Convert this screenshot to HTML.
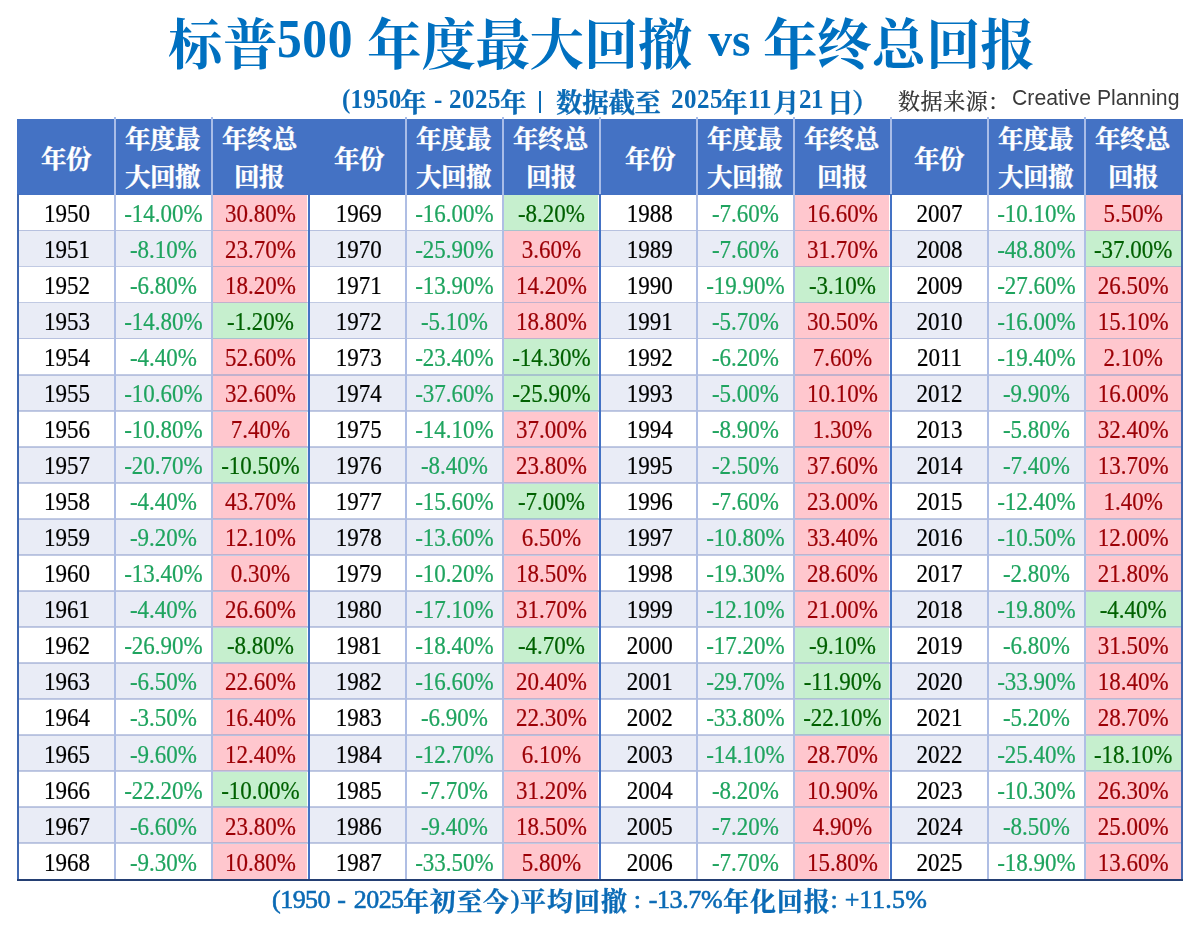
<!DOCTYPE html>
<html lang="zh"><head><meta charset="utf-8"><title>S&amp;P 500</title><style>
html,body{margin:0;padding:0;background:#fff}
body{width:1200px;height:932px;position:relative;overflow:hidden;font-family:"Liberation Serif",serif}
.b{position:absolute}
#tx{position:absolute;left:0;top:0;width:1200px;height:932px;will-change:transform}
.cj{position:absolute;overflow:visible}
.cj text{font-family:"Liberation Serif","Noto Serif CJK SC",serif;font-size:1000px;font-weight:bold}
.cj text.m{font-weight:normal}
.cj text.ku{font-family:"Liberation Sans",sans-serif;font-weight:normal}
.t{position:absolute;width:97px;height:36.05px;line-height:38.55px;text-align:center;font-size:23px;white-space:nowrap;color:#000;transform:scale(1,1.09);-webkit-text-stroke:.2px currentColor}
.d{color:#1FA45F}
.p{color:#9C0006}
.n{color:#006100}
.l{position:absolute;white-space:nowrap;line-height:1.2}
.tt{color:#0070C0}
.st{color:#0A6AB5}
.src{font-size:22px;color:#333}
.bt{color:#0A6AB5;-webkit-text-stroke:.6px #0A6AB5}
</style></head>
<body>
<div class="b" style="left:16.9px;top:118.8px;width:1166.1px;height:76.1px;background:#4472C4"></div>
<div class="b" style="left:16.9px;top:230.45px;width:1166.1px;height:36.05px;background:#E9ECF6"></div>
<div class="b" style="left:16.9px;top:302.55px;width:1166.1px;height:36.05px;background:#E9ECF6"></div>
<div class="b" style="left:16.9px;top:374.65px;width:1166.1px;height:36.05px;background:#E9ECF6"></div>
<div class="b" style="left:16.9px;top:446.75px;width:1166.1px;height:36.05px;background:#E9ECF6"></div>
<div class="b" style="left:16.9px;top:518.85px;width:1166.1px;height:36.05px;background:#E9ECF6"></div>
<div class="b" style="left:16.9px;top:590.95px;width:1166.1px;height:36.05px;background:#E9ECF6"></div>
<div class="b" style="left:16.9px;top:663.05px;width:1166.1px;height:36.05px;background:#E9ECF6"></div>
<div class="b" style="left:16.9px;top:735.15px;width:1166.1px;height:36.05px;background:#E9ECF6"></div>
<div class="b" style="left:16.9px;top:807.25px;width:1166.1px;height:36.05px;background:#E9ECF6"></div>
<div class="b" style="left:213px;top:195.2px;width:94px;height:35.45px;background:#FFC7CE"></div>
<div class="b" style="left:504px;top:195.2px;width:94px;height:35.45px;background:#C6EFCE"></div>
<div class="b" style="left:795px;top:195.2px;width:94px;height:35.45px;background:#FFC7CE"></div>
<div class="b" style="left:1086px;top:195.2px;width:96px;height:35.45px;background:#FFC7CE"></div>
<div class="b" style="left:213px;top:231.25px;width:94px;height:35.45px;background:#FFC7CE"></div>
<div class="b" style="left:504px;top:231.25px;width:94px;height:35.45px;background:#FFC7CE"></div>
<div class="b" style="left:795px;top:231.25px;width:94px;height:35.45px;background:#FFC7CE"></div>
<div class="b" style="left:1086px;top:231.25px;width:96px;height:35.45px;background:#C6EFCE"></div>
<div class="b" style="left:213px;top:267.3px;width:94px;height:35.45px;background:#FFC7CE"></div>
<div class="b" style="left:504px;top:267.3px;width:94px;height:35.45px;background:#FFC7CE"></div>
<div class="b" style="left:795px;top:267.3px;width:94px;height:35.45px;background:#C6EFCE"></div>
<div class="b" style="left:1086px;top:267.3px;width:96px;height:35.45px;background:#FFC7CE"></div>
<div class="b" style="left:213px;top:303.35px;width:94px;height:35.45px;background:#C6EFCE"></div>
<div class="b" style="left:504px;top:303.35px;width:94px;height:35.45px;background:#FFC7CE"></div>
<div class="b" style="left:795px;top:303.35px;width:94px;height:35.45px;background:#FFC7CE"></div>
<div class="b" style="left:1086px;top:303.35px;width:96px;height:35.45px;background:#FFC7CE"></div>
<div class="b" style="left:213px;top:339.4px;width:94px;height:35.45px;background:#FFC7CE"></div>
<div class="b" style="left:504px;top:339.4px;width:94px;height:35.45px;background:#C6EFCE"></div>
<div class="b" style="left:795px;top:339.4px;width:94px;height:35.45px;background:#FFC7CE"></div>
<div class="b" style="left:1086px;top:339.4px;width:96px;height:35.45px;background:#FFC7CE"></div>
<div class="b" style="left:213px;top:375.45px;width:94px;height:35.45px;background:#FFC7CE"></div>
<div class="b" style="left:504px;top:375.45px;width:94px;height:35.45px;background:#C6EFCE"></div>
<div class="b" style="left:795px;top:375.45px;width:94px;height:35.45px;background:#FFC7CE"></div>
<div class="b" style="left:1086px;top:375.45px;width:96px;height:35.45px;background:#FFC7CE"></div>
<div class="b" style="left:213px;top:411.5px;width:94px;height:35.45px;background:#FFC7CE"></div>
<div class="b" style="left:504px;top:411.5px;width:94px;height:35.45px;background:#FFC7CE"></div>
<div class="b" style="left:795px;top:411.5px;width:94px;height:35.45px;background:#FFC7CE"></div>
<div class="b" style="left:1086px;top:411.5px;width:96px;height:35.45px;background:#FFC7CE"></div>
<div class="b" style="left:213px;top:447.55px;width:94px;height:35.45px;background:#C6EFCE"></div>
<div class="b" style="left:504px;top:447.55px;width:94px;height:35.45px;background:#FFC7CE"></div>
<div class="b" style="left:795px;top:447.55px;width:94px;height:35.45px;background:#FFC7CE"></div>
<div class="b" style="left:1086px;top:447.55px;width:96px;height:35.45px;background:#FFC7CE"></div>
<div class="b" style="left:213px;top:483.6px;width:94px;height:35.45px;background:#FFC7CE"></div>
<div class="b" style="left:504px;top:483.6px;width:94px;height:35.45px;background:#C6EFCE"></div>
<div class="b" style="left:795px;top:483.6px;width:94px;height:35.45px;background:#FFC7CE"></div>
<div class="b" style="left:1086px;top:483.6px;width:96px;height:35.45px;background:#FFC7CE"></div>
<div class="b" style="left:213px;top:519.65px;width:94px;height:35.45px;background:#FFC7CE"></div>
<div class="b" style="left:504px;top:519.65px;width:94px;height:35.45px;background:#FFC7CE"></div>
<div class="b" style="left:795px;top:519.65px;width:94px;height:35.45px;background:#FFC7CE"></div>
<div class="b" style="left:1086px;top:519.65px;width:96px;height:35.45px;background:#FFC7CE"></div>
<div class="b" style="left:213px;top:555.7px;width:94px;height:35.45px;background:#FFC7CE"></div>
<div class="b" style="left:504px;top:555.7px;width:94px;height:35.45px;background:#FFC7CE"></div>
<div class="b" style="left:795px;top:555.7px;width:94px;height:35.45px;background:#FFC7CE"></div>
<div class="b" style="left:1086px;top:555.7px;width:96px;height:35.45px;background:#FFC7CE"></div>
<div class="b" style="left:213px;top:591.75px;width:94px;height:35.45px;background:#FFC7CE"></div>
<div class="b" style="left:504px;top:591.75px;width:94px;height:35.45px;background:#FFC7CE"></div>
<div class="b" style="left:795px;top:591.75px;width:94px;height:35.45px;background:#FFC7CE"></div>
<div class="b" style="left:1086px;top:591.75px;width:96px;height:35.45px;background:#C6EFCE"></div>
<div class="b" style="left:213px;top:627.8px;width:94px;height:35.45px;background:#C6EFCE"></div>
<div class="b" style="left:504px;top:627.8px;width:94px;height:35.45px;background:#C6EFCE"></div>
<div class="b" style="left:795px;top:627.8px;width:94px;height:35.45px;background:#C6EFCE"></div>
<div class="b" style="left:1086px;top:627.8px;width:96px;height:35.45px;background:#FFC7CE"></div>
<div class="b" style="left:213px;top:663.85px;width:94px;height:35.45px;background:#FFC7CE"></div>
<div class="b" style="left:504px;top:663.85px;width:94px;height:35.45px;background:#FFC7CE"></div>
<div class="b" style="left:795px;top:663.85px;width:94px;height:35.45px;background:#C6EFCE"></div>
<div class="b" style="left:1086px;top:663.85px;width:96px;height:35.45px;background:#FFC7CE"></div>
<div class="b" style="left:213px;top:699.9px;width:94px;height:35.45px;background:#FFC7CE"></div>
<div class="b" style="left:504px;top:699.9px;width:94px;height:35.45px;background:#FFC7CE"></div>
<div class="b" style="left:795px;top:699.9px;width:94px;height:35.45px;background:#C6EFCE"></div>
<div class="b" style="left:1086px;top:699.9px;width:96px;height:35.45px;background:#FFC7CE"></div>
<div class="b" style="left:213px;top:735.95px;width:94px;height:35.45px;background:#FFC7CE"></div>
<div class="b" style="left:504px;top:735.95px;width:94px;height:35.45px;background:#FFC7CE"></div>
<div class="b" style="left:795px;top:735.95px;width:94px;height:35.45px;background:#FFC7CE"></div>
<div class="b" style="left:1086px;top:735.95px;width:96px;height:35.45px;background:#C6EFCE"></div>
<div class="b" style="left:213px;top:772px;width:94px;height:35.45px;background:#C6EFCE"></div>
<div class="b" style="left:504px;top:772px;width:94px;height:35.45px;background:#FFC7CE"></div>
<div class="b" style="left:795px;top:772px;width:94px;height:35.45px;background:#FFC7CE"></div>
<div class="b" style="left:1086px;top:772px;width:96px;height:35.45px;background:#FFC7CE"></div>
<div class="b" style="left:213px;top:808.05px;width:94px;height:35.45px;background:#FFC7CE"></div>
<div class="b" style="left:504px;top:808.05px;width:94px;height:35.45px;background:#FFC7CE"></div>
<div class="b" style="left:795px;top:808.05px;width:94px;height:35.45px;background:#FFC7CE"></div>
<div class="b" style="left:1086px;top:808.05px;width:96px;height:35.45px;background:#FFC7CE"></div>
<div class="b" style="left:213px;top:844.1px;width:94px;height:35.45px;background:#FFC7CE"></div>
<div class="b" style="left:504px;top:844.1px;width:94px;height:35.45px;background:#FFC7CE"></div>
<div class="b" style="left:795px;top:844.1px;width:94px;height:35.45px;background:#FFC7CE"></div>
<div class="b" style="left:1086px;top:844.1px;width:96px;height:35.45px;background:#FFC7CE"></div>
<div class="b" style="left:16.9px;top:229.55px;width:1166.1px;height:1.8px;background:#8E9FCC;opacity:.55"></div>
<div class="b" style="left:16.9px;top:265.6px;width:1166.1px;height:1.8px;background:#8E9FCC;opacity:.55"></div>
<div class="b" style="left:16.9px;top:301.65px;width:1166.1px;height:1.8px;background:#8E9FCC;opacity:.55"></div>
<div class="b" style="left:16.9px;top:337.7px;width:1166.1px;height:1.8px;background:#8E9FCC;opacity:.55"></div>
<div class="b" style="left:16.9px;top:373.75px;width:1166.1px;height:1.8px;background:#8E9FCC;opacity:.55"></div>
<div class="b" style="left:16.9px;top:409.8px;width:1166.1px;height:1.8px;background:#8E9FCC;opacity:.55"></div>
<div class="b" style="left:16.9px;top:445.85px;width:1166.1px;height:1.8px;background:#8E9FCC;opacity:.55"></div>
<div class="b" style="left:16.9px;top:481.9px;width:1166.1px;height:1.8px;background:#8E9FCC;opacity:.55"></div>
<div class="b" style="left:16.9px;top:517.95px;width:1166.1px;height:1.8px;background:#8E9FCC;opacity:.55"></div>
<div class="b" style="left:16.9px;top:554px;width:1166.1px;height:1.8px;background:#8E9FCC;opacity:.55"></div>
<div class="b" style="left:16.9px;top:590.05px;width:1166.1px;height:1.8px;background:#8E9FCC;opacity:.55"></div>
<div class="b" style="left:16.9px;top:626.1px;width:1166.1px;height:1.8px;background:#8E9FCC;opacity:.55"></div>
<div class="b" style="left:16.9px;top:662.15px;width:1166.1px;height:1.8px;background:#8E9FCC;opacity:.55"></div>
<div class="b" style="left:16.9px;top:698.2px;width:1166.1px;height:1.8px;background:#8E9FCC;opacity:.55"></div>
<div class="b" style="left:16.9px;top:734.25px;width:1166.1px;height:1.8px;background:#8E9FCC;opacity:.55"></div>
<div class="b" style="left:16.9px;top:770.3px;width:1166.1px;height:1.8px;background:#8E9FCC;opacity:.55"></div>
<div class="b" style="left:16.9px;top:806.35px;width:1166.1px;height:1.8px;background:#8E9FCC;opacity:.55"></div>
<div class="b" style="left:16.9px;top:842.4px;width:1166.1px;height:1.8px;background:#8E9FCC;opacity:.55"></div>
<div class="b" style="left:114px;top:116.8px;width:2px;height:77.6px;background:#A9BDE8"></div>
<div class="b" style="left:114px;top:194.4px;width:2px;height:684.95px;background:#AFBEE4"></div>
<div class="b" style="left:211px;top:116.8px;width:2px;height:77.6px;background:#A9BDE8"></div>
<div class="b" style="left:211px;top:194.4px;width:2px;height:684.95px;background:#AFBEE4"></div>
<div class="b" style="left:308px;top:194.4px;width:2.1px;height:684.95px;background:#4472C4"></div>
<div class="b" style="left:405px;top:116.8px;width:2px;height:77.6px;background:#A9BDE8"></div>
<div class="b" style="left:405px;top:194.4px;width:2px;height:684.95px;background:#AFBEE4"></div>
<div class="b" style="left:502px;top:116.8px;width:2px;height:77.6px;background:#A9BDE8"></div>
<div class="b" style="left:502px;top:194.4px;width:2px;height:684.95px;background:#AFBEE4"></div>
<div class="b" style="left:599px;top:116.8px;width:2px;height:77.6px;background:#A9BDE8"></div>
<div class="b" style="left:598.8px;top:194.4px;width:2.5px;height:684.95px;background:#4472C4"></div>
<div class="b" style="left:696px;top:116.8px;width:2px;height:77.6px;background:#A9BDE8"></div>
<div class="b" style="left:696px;top:194.4px;width:2px;height:684.95px;background:#AFBEE4"></div>
<div class="b" style="left:793px;top:116.8px;width:2px;height:77.6px;background:#A9BDE8"></div>
<div class="b" style="left:793px;top:194.4px;width:2px;height:684.95px;background:#AFBEE4"></div>
<div class="b" style="left:890px;top:116.8px;width:2px;height:77.6px;background:#A9BDE8"></div>
<div class="b" style="left:889.8px;top:194.4px;width:1.8px;height:684.95px;background:#4472C4"></div>
<div class="b" style="left:987px;top:116.8px;width:2px;height:77.6px;background:#A9BDE8"></div>
<div class="b" style="left:987px;top:194.4px;width:2px;height:684.95px;background:#AFBEE4"></div>
<div class="b" style="left:1084px;top:116.8px;width:2px;height:77.6px;background:#A9BDE8"></div>
<div class="b" style="left:1084px;top:194.4px;width:2px;height:684.95px;background:#AFBEE4"></div>
<div class="b" style="left:17.1px;top:194.4px;width:2.1px;height:685.95px;background:#4068B0"></div>
<div class="b" style="left:1181.1px;top:194.4px;width:1.9px;height:685.95px;background:#4668AE"></div>
<div class="b" style="left:17.1px;top:878.75px;width:1165.9px;height:1.9px;background:#243F73"></div>
<svg class="cj" role="img" aria-label="年份" style="left:41.41px;top:143.45px;width:50.49px;height:30.6px;fill:#fff;stroke:#fff;stroke-width:15.69;stroke-linejoin:round" viewBox="0 -980 1980 1200" preserveAspectRatio="none"><title>年份</title><text x="0 980" y="0">年份</text></svg>
<svg class="cj" role="img" aria-label="年度最" style="left:124.52px;top:122.95px;width:75.48px;height:30.6px;fill:#fff;stroke:#fff;stroke-width:15.69;stroke-linejoin:round" viewBox="0 -980 2960 1200" preserveAspectRatio="none"><title>年度最</title><text x="0 980 1960" y="0">年度最</text></svg>
<svg class="cj" role="img" aria-label="大回撤" style="left:124.52px;top:161.45px;width:75.48px;height:30.6px;fill:#fff;stroke:#fff;stroke-width:15.69;stroke-linejoin:round" viewBox="0 -980 2960 1200" preserveAspectRatio="none"><title>大回撤</title><text x="0 980 1960" y="0">大回撤</text></svg>
<svg class="cj" role="img" aria-label="年终总" style="left:221.51px;top:122.95px;width:75.48px;height:30.6px;fill:#fff;stroke:#fff;stroke-width:15.69;stroke-linejoin:round" viewBox="0 -980 2960 1200" preserveAspectRatio="none"><title>年终总</title><text x="0 980 1960" y="0">年终总</text></svg>
<svg class="cj" role="img" aria-label="回报" style="left:234.01px;top:161.45px;width:50.49px;height:30.6px;fill:#fff;stroke:#fff;stroke-width:15.69;stroke-linejoin:round" viewBox="0 -980 1980 1200" preserveAspectRatio="none"><title>回报</title><text x="0 980" y="0">回报</text></svg>
<svg class="cj" role="img" aria-label="年份" style="left:333.61px;top:143.45px;width:50.49px;height:30.6px;fill:#fff;stroke:#fff;stroke-width:15.69;stroke-linejoin:round" viewBox="0 -980 1980 1200" preserveAspectRatio="none"><title>年份</title><text x="0 980" y="0">年份</text></svg>
<svg class="cj" role="img" aria-label="年度最" style="left:415.51px;top:122.95px;width:75.48px;height:30.6px;fill:#fff;stroke:#fff;stroke-width:15.69;stroke-linejoin:round" viewBox="0 -980 2960 1200" preserveAspectRatio="none"><title>年度最</title><text x="0 980 1960" y="0">年度最</text></svg>
<svg class="cj" role="img" aria-label="大回撤" style="left:415.51px;top:161.45px;width:75.48px;height:30.6px;fill:#fff;stroke:#fff;stroke-width:15.69;stroke-linejoin:round" viewBox="0 -980 2960 1200" preserveAspectRatio="none"><title>大回撤</title><text x="0 980 1960" y="0">大回撤</text></svg>
<svg class="cj" role="img" aria-label="年终总" style="left:512.51px;top:122.95px;width:75.48px;height:30.6px;fill:#fff;stroke:#fff;stroke-width:15.69;stroke-linejoin:round" viewBox="0 -980 2960 1200" preserveAspectRatio="none"><title>年终总</title><text x="0 980 1960" y="0">年终总</text></svg>
<svg class="cj" role="img" aria-label="回报" style="left:526.21px;top:161.45px;width:50.49px;height:30.6px;fill:#fff;stroke:#fff;stroke-width:15.69;stroke-linejoin:round" viewBox="0 -980 1980 1200" preserveAspectRatio="none"><title>回报</title><text x="0 980" y="0">回报</text></svg>
<svg class="cj" role="img" aria-label="年份" style="left:624.61px;top:143.45px;width:50.49px;height:30.6px;fill:#fff;stroke:#fff;stroke-width:15.69;stroke-linejoin:round" viewBox="0 -980 1980 1200" preserveAspectRatio="none"><title>年份</title><text x="0 980" y="0">年份</text></svg>
<svg class="cj" role="img" aria-label="年度最" style="left:706.51px;top:122.95px;width:75.48px;height:30.6px;fill:#fff;stroke:#fff;stroke-width:15.69;stroke-linejoin:round" viewBox="0 -980 2960 1200" preserveAspectRatio="none"><title>年度最</title><text x="0 980 1960" y="0">年度最</text></svg>
<svg class="cj" role="img" aria-label="大回撤" style="left:706.51px;top:161.45px;width:75.48px;height:30.6px;fill:#fff;stroke:#fff;stroke-width:15.69;stroke-linejoin:round" viewBox="0 -980 2960 1200" preserveAspectRatio="none"><title>大回撤</title><text x="0 980 1960" y="0">大回撤</text></svg>
<svg class="cj" role="img" aria-label="年终总" style="left:803.51px;top:122.95px;width:75.48px;height:30.6px;fill:#fff;stroke:#fff;stroke-width:15.69;stroke-linejoin:round" viewBox="0 -980 2960 1200" preserveAspectRatio="none"><title>年终总</title><text x="0 980 1960" y="0">年终总</text></svg>
<svg class="cj" role="img" aria-label="回报" style="left:817.21px;top:161.45px;width:50.49px;height:30.6px;fill:#fff;stroke:#fff;stroke-width:15.69;stroke-linejoin:round" viewBox="0 -980 1980 1200" preserveAspectRatio="none"><title>回报</title><text x="0 980" y="0">回报</text></svg>
<svg class="cj" role="img" aria-label="年份" style="left:914.41px;top:143.45px;width:50.49px;height:30.6px;fill:#fff;stroke:#fff;stroke-width:15.69;stroke-linejoin:round" viewBox="0 -980 1980 1200" preserveAspectRatio="none"><title>年份</title><text x="0 980" y="0">年份</text></svg>
<svg class="cj" role="img" aria-label="年度最" style="left:997.51px;top:122.95px;width:75.48px;height:30.6px;fill:#fff;stroke:#fff;stroke-width:15.69;stroke-linejoin:round" viewBox="0 -980 2960 1200" preserveAspectRatio="none"><title>年度最</title><text x="0 980 1960" y="0">年度最</text></svg>
<svg class="cj" role="img" aria-label="大回撤" style="left:997.51px;top:161.45px;width:75.48px;height:30.6px;fill:#fff;stroke:#fff;stroke-width:15.69;stroke-linejoin:round" viewBox="0 -980 2960 1200" preserveAspectRatio="none"><title>大回撤</title><text x="0 980 1960" y="0">大回撤</text></svg>
<svg class="cj" role="img" aria-label="年终总" style="left:1095.02px;top:122.95px;width:75.48px;height:30.6px;fill:#fff;stroke:#fff;stroke-width:15.69;stroke-linejoin:round" viewBox="0 -980 2960 1200" preserveAspectRatio="none"><title>年终总</title><text x="0 980 1960" y="0">年终总</text></svg>
<svg class="cj" role="img" aria-label="回报" style="left:1107.51px;top:161.45px;width:50.49px;height:30.6px;fill:#fff;stroke:#fff;stroke-width:15.69;stroke-linejoin:round" viewBox="0 -980 1980 1200" preserveAspectRatio="none"><title>回报</title><text x="0 980" y="0">回报</text></svg>
<div id="tx">
<div class="t y" style="left:18.45px;top:195px">1950</div>
<div class="t d" style="left:115px;top:195px">-14.00%</div>
<div class="t p" style="left:212px;top:195px">30.80%</div>
<div class="t y" style="left:310.2px;top:195px">1969</div>
<div class="t d" style="left:406px;top:195px">-16.00%</div>
<div class="t n" style="left:503px;top:195px">-8.20%</div>
<div class="t y" style="left:601.2px;top:195px">1988</div>
<div class="t d" style="left:697px;top:195px">-7.60%</div>
<div class="t p" style="left:794px;top:195px">16.60%</div>
<div class="t y" style="left:891px;top:195px">2007</div>
<div class="t d" style="left:988px;top:195px">-10.10%</div>
<div class="t p" style="left:1084.7px;top:195px">5.50%</div>
<div class="t y" style="left:18.45px;top:231px">1951</div>
<div class="t d" style="left:115px;top:231px">-8.10%</div>
<div class="t p" style="left:212px;top:231px">23.70%</div>
<div class="t y" style="left:310.2px;top:231px">1970</div>
<div class="t d" style="left:406px;top:231px">-25.90%</div>
<div class="t p" style="left:503px;top:231px">3.60%</div>
<div class="t y" style="left:601.2px;top:231px">1989</div>
<div class="t d" style="left:697px;top:231px">-7.60%</div>
<div class="t p" style="left:794px;top:231px">31.70%</div>
<div class="t y" style="left:891px;top:231px">2008</div>
<div class="t d" style="left:988px;top:231px">-48.80%</div>
<div class="t n" style="left:1084.7px;top:231px">-37.00%</div>
<div class="t y" style="left:18.45px;top:267px">1952</div>
<div class="t d" style="left:115px;top:267px">-6.80%</div>
<div class="t p" style="left:212px;top:267px">18.20%</div>
<div class="t y" style="left:310.2px;top:267px">1971</div>
<div class="t d" style="left:406px;top:267px">-13.90%</div>
<div class="t p" style="left:503px;top:267px">14.20%</div>
<div class="t y" style="left:601.2px;top:267px">1990</div>
<div class="t d" style="left:697px;top:267px">-19.90%</div>
<div class="t n" style="left:794px;top:267px">-3.10%</div>
<div class="t y" style="left:891px;top:267px">2009</div>
<div class="t d" style="left:988px;top:267px">-27.60%</div>
<div class="t p" style="left:1084.7px;top:267px">26.50%</div>
<div class="t y" style="left:18.45px;top:303px">1953</div>
<div class="t d" style="left:115px;top:303px">-14.80%</div>
<div class="t n" style="left:212px;top:303px">-1.20%</div>
<div class="t y" style="left:310.2px;top:303px">1972</div>
<div class="t d" style="left:406px;top:303px">-5.10%</div>
<div class="t p" style="left:503px;top:303px">18.80%</div>
<div class="t y" style="left:601.2px;top:303px">1991</div>
<div class="t d" style="left:697px;top:303px">-5.70%</div>
<div class="t p" style="left:794px;top:303px">30.50%</div>
<div class="t y" style="left:891px;top:303px">2010</div>
<div class="t d" style="left:988px;top:303px">-16.00%</div>
<div class="t p" style="left:1084.7px;top:303px">15.10%</div>
<div class="t y" style="left:18.45px;top:339px">1954</div>
<div class="t d" style="left:115px;top:339px">-4.40%</div>
<div class="t p" style="left:212px;top:339px">52.60%</div>
<div class="t y" style="left:310.2px;top:339px">1973</div>
<div class="t d" style="left:406px;top:339px">-23.40%</div>
<div class="t n" style="left:503px;top:339px">-14.30%</div>
<div class="t y" style="left:601.2px;top:339px">1992</div>
<div class="t d" style="left:697px;top:339px">-6.20%</div>
<div class="t p" style="left:794px;top:339px">7.60%</div>
<div class="t y" style="left:891px;top:339px">2011</div>
<div class="t d" style="left:988px;top:339px">-19.40%</div>
<div class="t p" style="left:1084.7px;top:339px">2.10%</div>
<div class="t y" style="left:18.45px;top:375px">1955</div>
<div class="t d" style="left:115px;top:375px">-10.60%</div>
<div class="t p" style="left:212px;top:375px">32.60%</div>
<div class="t y" style="left:310.2px;top:375px">1974</div>
<div class="t d" style="left:406px;top:375px">-37.60%</div>
<div class="t n" style="left:503px;top:375px">-25.90%</div>
<div class="t y" style="left:601.2px;top:375px">1993</div>
<div class="t d" style="left:697px;top:375px">-5.00%</div>
<div class="t p" style="left:794px;top:375px">10.10%</div>
<div class="t y" style="left:891px;top:375px">2012</div>
<div class="t d" style="left:988px;top:375px">-9.90%</div>
<div class="t p" style="left:1084.7px;top:375px">16.00%</div>
<div class="t y" style="left:18.45px;top:411px">1956</div>
<div class="t d" style="left:115px;top:411px">-10.80%</div>
<div class="t p" style="left:212px;top:411px">7.40%</div>
<div class="t y" style="left:310.2px;top:411px">1975</div>
<div class="t d" style="left:406px;top:411px">-14.10%</div>
<div class="t p" style="left:503px;top:411px">37.00%</div>
<div class="t y" style="left:601.2px;top:411px">1994</div>
<div class="t d" style="left:697px;top:411px">-8.90%</div>
<div class="t p" style="left:794px;top:411px">1.30%</div>
<div class="t y" style="left:891px;top:411px">2013</div>
<div class="t d" style="left:988px;top:411px">-5.80%</div>
<div class="t p" style="left:1084.7px;top:411px">32.40%</div>
<div class="t y" style="left:18.45px;top:447px">1957</div>
<div class="t d" style="left:115px;top:447px">-20.70%</div>
<div class="t n" style="left:212px;top:447px">-10.50%</div>
<div class="t y" style="left:310.2px;top:447px">1976</div>
<div class="t d" style="left:406px;top:447px">-8.40%</div>
<div class="t p" style="left:503px;top:447px">23.80%</div>
<div class="t y" style="left:601.2px;top:447px">1995</div>
<div class="t d" style="left:697px;top:447px">-2.50%</div>
<div class="t p" style="left:794px;top:447px">37.60%</div>
<div class="t y" style="left:891px;top:447px">2014</div>
<div class="t d" style="left:988px;top:447px">-7.40%</div>
<div class="t p" style="left:1084.7px;top:447px">13.70%</div>
<div class="t y" style="left:18.45px;top:483px">1958</div>
<div class="t d" style="left:115px;top:483px">-4.40%</div>
<div class="t p" style="left:212px;top:483px">43.70%</div>
<div class="t y" style="left:310.2px;top:483px">1977</div>
<div class="t d" style="left:406px;top:483px">-15.60%</div>
<div class="t n" style="left:503px;top:483px">-7.00%</div>
<div class="t y" style="left:601.2px;top:483px">1996</div>
<div class="t d" style="left:697px;top:483px">-7.60%</div>
<div class="t p" style="left:794px;top:483px">23.00%</div>
<div class="t y" style="left:891px;top:483px">2015</div>
<div class="t d" style="left:988px;top:483px">-12.40%</div>
<div class="t p" style="left:1084.7px;top:483px">1.40%</div>
<div class="t y" style="left:18.45px;top:519px">1959</div>
<div class="t d" style="left:115px;top:519px">-9.20%</div>
<div class="t p" style="left:212px;top:519px">12.10%</div>
<div class="t y" style="left:310.2px;top:519px">1978</div>
<div class="t d" style="left:406px;top:519px">-13.60%</div>
<div class="t p" style="left:503px;top:519px">6.50%</div>
<div class="t y" style="left:601.2px;top:519px">1997</div>
<div class="t d" style="left:697px;top:519px">-10.80%</div>
<div class="t p" style="left:794px;top:519px">33.40%</div>
<div class="t y" style="left:891px;top:519px">2016</div>
<div class="t d" style="left:988px;top:519px">-10.50%</div>
<div class="t p" style="left:1084.7px;top:519px">12.00%</div>
<div class="t y" style="left:18.45px;top:555px">1960</div>
<div class="t d" style="left:115px;top:555px">-13.40%</div>
<div class="t p" style="left:212px;top:555px">0.30%</div>
<div class="t y" style="left:310.2px;top:555px">1979</div>
<div class="t d" style="left:406px;top:555px">-10.20%</div>
<div class="t p" style="left:503px;top:555px">18.50%</div>
<div class="t y" style="left:601.2px;top:555px">1998</div>
<div class="t d" style="left:697px;top:555px">-19.30%</div>
<div class="t p" style="left:794px;top:555px">28.60%</div>
<div class="t y" style="left:891px;top:555px">2017</div>
<div class="t d" style="left:988px;top:555px">-2.80%</div>
<div class="t p" style="left:1084.7px;top:555px">21.80%</div>
<div class="t y" style="left:18.45px;top:591px">1961</div>
<div class="t d" style="left:115px;top:591px">-4.40%</div>
<div class="t p" style="left:212px;top:591px">26.60%</div>
<div class="t y" style="left:310.2px;top:591px">1980</div>
<div class="t d" style="left:406px;top:591px">-17.10%</div>
<div class="t p" style="left:503px;top:591px">31.70%</div>
<div class="t y" style="left:601.2px;top:591px">1999</div>
<div class="t d" style="left:697px;top:591px">-12.10%</div>
<div class="t p" style="left:794px;top:591px">21.00%</div>
<div class="t y" style="left:891px;top:591px">2018</div>
<div class="t d" style="left:988px;top:591px">-19.80%</div>
<div class="t n" style="left:1084.7px;top:591px">-4.40%</div>
<div class="t y" style="left:18.45px;top:627px">1962</div>
<div class="t d" style="left:115px;top:627px">-26.90%</div>
<div class="t n" style="left:212px;top:627px">-8.80%</div>
<div class="t y" style="left:310.2px;top:627px">1981</div>
<div class="t d" style="left:406px;top:627px">-18.40%</div>
<div class="t n" style="left:503px;top:627px">-4.70%</div>
<div class="t y" style="left:601.2px;top:627px">2000</div>
<div class="t d" style="left:697px;top:627px">-17.20%</div>
<div class="t n" style="left:794px;top:627px">-9.10%</div>
<div class="t y" style="left:891px;top:627px">2019</div>
<div class="t d" style="left:988px;top:627px">-6.80%</div>
<div class="t p" style="left:1084.7px;top:627px">31.50%</div>
<div class="t y" style="left:18.45px;top:663px">1963</div>
<div class="t d" style="left:115px;top:663px">-6.50%</div>
<div class="t p" style="left:212px;top:663px">22.60%</div>
<div class="t y" style="left:310.2px;top:663px">1982</div>
<div class="t d" style="left:406px;top:663px">-16.60%</div>
<div class="t p" style="left:503px;top:663px">20.40%</div>
<div class="t y" style="left:601.2px;top:663px">2001</div>
<div class="t d" style="left:697px;top:663px">-29.70%</div>
<div class="t n" style="left:794px;top:663px">-11.90%</div>
<div class="t y" style="left:891px;top:663px">2020</div>
<div class="t d" style="left:988px;top:663px">-33.90%</div>
<div class="t p" style="left:1084.7px;top:663px">18.40%</div>
<div class="t y" style="left:18.45px;top:699px">1964</div>
<div class="t d" style="left:115px;top:699px">-3.50%</div>
<div class="t p" style="left:212px;top:699px">16.40%</div>
<div class="t y" style="left:310.2px;top:699px">1983</div>
<div class="t d" style="left:406px;top:699px">-6.90%</div>
<div class="t p" style="left:503px;top:699px">22.30%</div>
<div class="t y" style="left:601.2px;top:699px">2002</div>
<div class="t d" style="left:697px;top:699px">-33.80%</div>
<div class="t n" style="left:794px;top:699px">-22.10%</div>
<div class="t y" style="left:891px;top:699px">2021</div>
<div class="t d" style="left:988px;top:699px">-5.20%</div>
<div class="t p" style="left:1084.7px;top:699px">28.70%</div>
<div class="t y" style="left:18.45px;top:736px">1965</div>
<div class="t d" style="left:115px;top:736px">-9.60%</div>
<div class="t p" style="left:212px;top:736px">12.40%</div>
<div class="t y" style="left:310.2px;top:736px">1984</div>
<div class="t d" style="left:406px;top:736px">-12.70%</div>
<div class="t p" style="left:503px;top:736px">6.10%</div>
<div class="t y" style="left:601.2px;top:736px">2003</div>
<div class="t d" style="left:697px;top:736px">-14.10%</div>
<div class="t p" style="left:794px;top:736px">28.70%</div>
<div class="t y" style="left:891px;top:736px">2022</div>
<div class="t d" style="left:988px;top:736px">-25.40%</div>
<div class="t n" style="left:1084.7px;top:736px">-18.10%</div>
<div class="t y" style="left:18.45px;top:772px">1966</div>
<div class="t d" style="left:115px;top:772px">-22.20%</div>
<div class="t n" style="left:212px;top:772px">-10.00%</div>
<div class="t y" style="left:310.2px;top:772px">1985</div>
<div class="t d" style="left:406px;top:772px">-7.70%</div>
<div class="t p" style="left:503px;top:772px">31.20%</div>
<div class="t y" style="left:601.2px;top:772px">2004</div>
<div class="t d" style="left:697px;top:772px">-8.20%</div>
<div class="t p" style="left:794px;top:772px">10.90%</div>
<div class="t y" style="left:891px;top:772px">2023</div>
<div class="t d" style="left:988px;top:772px">-10.30%</div>
<div class="t p" style="left:1084.7px;top:772px">26.30%</div>
<div class="t y" style="left:18.45px;top:808px">1967</div>
<div class="t d" style="left:115px;top:808px">-6.60%</div>
<div class="t p" style="left:212px;top:808px">23.80%</div>
<div class="t y" style="left:310.2px;top:808px">1986</div>
<div class="t d" style="left:406px;top:808px">-9.40%</div>
<div class="t p" style="left:503px;top:808px">18.50%</div>
<div class="t y" style="left:601.2px;top:808px">2005</div>
<div class="t d" style="left:697px;top:808px">-7.20%</div>
<div class="t p" style="left:794px;top:808px">4.90%</div>
<div class="t y" style="left:891px;top:808px">2024</div>
<div class="t d" style="left:988px;top:808px">-8.50%</div>
<div class="t p" style="left:1084.7px;top:808px">25.00%</div>
<div class="t y" style="left:18.45px;top:844px">1968</div>
<div class="t d" style="left:115px;top:844px">-9.30%</div>
<div class="t p" style="left:212px;top:844px">10.80%</div>
<div class="t y" style="left:310.2px;top:844px">1987</div>
<div class="t d" style="left:406px;top:844px">-33.50%</div>
<div class="t p" style="left:503px;top:844px">5.80%</div>
<div class="t y" style="left:601.2px;top:844px">2006</div>
<div class="t d" style="left:697px;top:844px">-7.70%</div>
<div class="t p" style="left:794px;top:844px">15.80%</div>
<div class="t y" style="left:891px;top:844px">2025</div>
<div class="t d" style="left:988px;top:844px">-18.90%</div>
<div class="t p" style="left:1084.7px;top:844px">13.60%</div>
<svg class="cj" role="img" aria-label="标普" style="left:167.7px;top:11.15px;width:109.5px;height:65.4px;fill:#0070C0" viewBox="0 -980 2009.17 1200" preserveAspectRatio="none"><title>标普</title><text x="0 1009.17" y="0">标普</text></svg>
<div class="l tt" style="left:277.11px;top:7.2px;font-size:54.4px;letter-spacing:0.63px;font-weight:bold;transform:scaleX(0.91);transform-origin:0 0">500</div>
<svg class="cj" role="img" aria-label="年度最大回撤" style="left:367px;top:11.15px;width:325.5px;height:65.4px;fill:#0070C0" viewBox="0 -980 5972.48 1200" preserveAspectRatio="none"><title>年度最大回撤</title><text x="0 994.5 1988.99 2983.49 3977.98 4972.48" y="0">年度最大回撤</text></svg>
<div class="l tt" style="left:708.3px;top:12.47px;font-size:47.5px;letter-spacing:-0.08px;font-weight:bold">vs</div>
<svg class="cj" role="img" aria-label="年终总回报" style="left:763px;top:11.15px;width:271.7px;height:65.4px;fill:#0070C0" viewBox="0 -980 4985.32 1200" preserveAspectRatio="none"><title>年终总回报</title><text x="0 996.33 1992.66 2988.99 3985.32" y="0">年终总回报</text></svg>
<div class="l st" style="left:341.91px;top:83.1px;font-size:27.2px;letter-spacing:0.27px;font-weight:bold;transform:scaleX(0.92);transform-origin:0 0">(1950</div>
<svg class="cj" role="img" aria-label="年" style="left:399.8px;top:85.95px;width:26.5px;height:31.8px;fill:#0A6AB5;stroke:#0A6AB5;stroke-width:11.32;stroke-linejoin:round" viewBox="0 -980 1000 1200" preserveAspectRatio="none"><title>年</title><text x="0" y="0">年</text></svg>
<div class="l st" style="left:434.09px;top:83.1px;font-size:27.2px;font-weight:bold;transform:scaleX(0.92);transform-origin:0 0">-</div>
<div class="l st" style="left:449.45px;top:83.1px;font-size:27.2px;letter-spacing:0.5px;font-weight:bold;transform:scaleX(0.92);transform-origin:0 0">2025</div>
<svg class="cj" role="img" aria-label="年" style="left:499.7px;top:85.95px;width:26.5px;height:31.8px;fill:#0A6AB5;stroke:#0A6AB5;stroke-width:11.32;stroke-linejoin:round" viewBox="0 -980 1000 1200" preserveAspectRatio="none"><title>年</title><text x="0" y="0">年</text></svg>
<div class="b" style="left:539.2px;top:91.2px;width:2.1px;height:22px;background:#0A6AB5"></div>
<svg class="cj" role="img" aria-label="数据截至" style="left:555.8px;top:85.95px;width:105.1px;height:31.8px;fill:#0A6AB5;stroke:#0A6AB5;stroke-width:11.32;stroke-linejoin:round" viewBox="0 -980 3966.04 1200" preserveAspectRatio="none"><title>数据截至</title><text x="0 988.68 1977.36 2966.04" y="0">数据截至</text></svg>
<div class="l st" style="left:670.95px;top:83.1px;font-size:27.2px;letter-spacing:0.5px;font-weight:bold;transform:scaleX(0.92);transform-origin:0 0">2025</div>
<svg class="cj" role="img" aria-label="年" style="left:720.7px;top:85.95px;width:26.5px;height:31.8px;fill:#0A6AB5;stroke:#0A6AB5;stroke-width:11.32;stroke-linejoin:round" viewBox="0 -980 1000 1200" preserveAspectRatio="none"><title>年</title><text x="0" y="0">年</text></svg>
<div class="l st" style="left:748.01px;top:83.1px;font-size:27.2px;letter-spacing:-0.01px;font-weight:bold;transform:scaleX(0.92);transform-origin:0 0">11</div>
<svg class="cj" role="img" aria-label="月" style="left:772.8px;top:85.95px;width:26.5px;height:31.8px;fill:#0A6AB5;stroke:#0A6AB5;stroke-width:11.32;stroke-linejoin:round" viewBox="0 -980 1000 1200" preserveAspectRatio="none"><title>月</title><text x="0" y="0">月</text></svg>
<div class="l st" style="left:798.95px;top:83.1px;font-size:27.2px;letter-spacing:-0.61px;font-weight:bold;transform:scaleX(0.92);transform-origin:0 0">21</div>
<svg class="cj" role="img" aria-label="日" style="left:827.2px;top:85.95px;width:26.5px;height:31.8px;fill:#0A6AB5;stroke:#0A6AB5;stroke-width:11.32;stroke-linejoin:round" viewBox="0 -980 1000 1200" preserveAspectRatio="none"><title>日</title><text x="0" y="0">日</text></svg>
<svg class="cj" role="img" aria-label="）" style="left:851.7px;top:85.95px;width:26.5px;height:31.8px;fill:#0A6AB5;stroke:#0A6AB5;stroke-width:11.32;stroke-linejoin:round" viewBox="0 -980 1000 1200" preserveAspectRatio="none"><title>）</title><text x="0" y="0">）</text></svg>
<svg class="cj" role="img" aria-label="数据来源" style="left:897.8px;top:87.2px;width:89.8px;height:26.4px;fill:#333;stroke:#333;stroke-width:11.36;stroke-linejoin:round" viewBox="0 -980 4081.82 1200" preserveAspectRatio="none"><title>数据来源</title><text class="m" x="0 1027.27 2054.55 3081.82" y="0">数据来源</text></svg>
<svg class="cj" role="img" aria-label="：" style="left:987.5px;top:87.2px;width:22px;height:26.4px;fill:#333;stroke:#333;stroke-width:11.36;stroke-linejoin:round" viewBox="0 -980 1000 1200" preserveAspectRatio="none"><title>：</title><text class="m" x="0" y="0">：</text></svg>
<svg class="cj" role="img" aria-label="Creative Planning" style="left:1012px;top:84.4px;width:167.44px;height:30.1px;fill:#3a3a3a" viewBox="0 -1000 7788 1400" preserveAspectRatio="none"><title>Creative Planning</title><text class="ku" x="0" y="0" textLength="7788" lengthAdjust="spacingAndGlyphs">Creative Planning</text></svg>
<div class="l bt" style="left:272.06px;top:884.23px;font-size:26px;letter-spacing:-0.53px">(1950</div>
<div class="l bt" style="left:337.14px;top:884.23px;font-size:26px">-</div>
<div class="l bt" style="left:353.76px;top:884.23px;font-size:26px;letter-spacing:-0.55px">2025</div>
<svg class="cj" role="img" aria-label="年初至今" style="left:403.2px;top:885.6px;width:106.1px;height:31.2px;fill:#0A6AB5;stroke:#0A6AB5;stroke-width:11.54;stroke-linejoin:round" viewBox="0 -980 4080.77 1200" preserveAspectRatio="none"><title>年初至今</title><text x="0 1026.92 2053.85 3080.77" y="0">年初至今</text></svg>
<div class="l bt" style="left:510.71px;top:884.23px;font-size:26px">)</div>
<svg class="cj" role="img" aria-label="平均回撤" style="left:520px;top:885.6px;width:107px;height:31.2px;fill:#0A6AB5;stroke:#0A6AB5;stroke-width:11.54;stroke-linejoin:round" viewBox="0 -980 4115.38 1200" preserveAspectRatio="none"><title>平均回撤</title><text x="0 1038.46 2076.92 3115.38" y="0">平均回撤</text></svg>
<div class="l bt" style="left:633.84px;top:884.23px;font-size:26px">:</div>
<div class="l bt" style="left:648.74px;top:884.23px;font-size:26px;letter-spacing:-0.39px">-13.7%</div>
<svg class="cj" role="img" aria-label="年化回报" style="left:723.3px;top:885.6px;width:106.7px;height:31.2px;fill:#0A6AB5;stroke:#0A6AB5;stroke-width:11.54;stroke-linejoin:round" viewBox="0 -980 4103.85 1200" preserveAspectRatio="none"><title>年化回报</title><text x="0 1034.62 2069.23 3103.85" y="0">年化回报</text></svg>
<div class="l bt" style="left:830.54px;top:884.23px;font-size:26px">:</div>
<div class="l bt" style="left:844.71px;top:884.23px;font-size:26px;letter-spacing:0.25px">+11.5%</div>
</div>
</body></html>
